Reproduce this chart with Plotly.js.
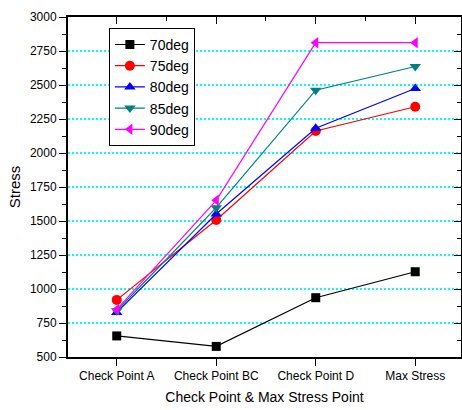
<!DOCTYPE html>
<html>
<head>
<meta charset="utf-8">
<script src="https://cdn.plot.ly/plotly-3.0.1.min.js"></script>
<style>html,body{margin:0;padding:0;background:#fff;}#chart{width:462px;height:410px;}</style>
</head>
<body>
<div id="chart"></div>
<script>
const categories = ["Check Point A", "Check Point BC", "Check Point D", "Max Stress"];
const deg70 = [655, 578, 936, 1127];
const deg75 = [920, 1507, 2162, 2340];
const deg80 = [828, 1551, 2182, 2474];
const deg85 = [840, 1598, 2462, 2636];
const deg90 = [850, 1652, 2811, 2811];
const seriesNames = ["70deg", "75deg", "80deg", "85deg", "90deg"];
const yTicks = [500, 750, 1000, 1250, 1500, 1750, 2000, 2250, 2500, 2750, 3000];

const colors = ["#000000", "#ff0000", "#0000ff", "#008080", "#ff00ff"];
const symbols = ["square", "circle", "triangle-up", "triangle-down", "triangle-left"];
const sizes = [9, 10, 10, 10, 10];
const data = [deg70, deg75, deg80, deg85, deg90].map((v, i) => ({
  x: categories, y: v, name: seriesNames[i], type: "scatter", mode: "lines+markers",
  line: {color: colors[i], width: 1.2},
  marker: {color: colors[i], symbol: symbols[i], size: sizes[i]}
}));
data.push({x: [], y: [], xaxis: "x2", yaxis: "y2", showlegend: false, type: "scatter", hoverinfo: "skip"});

const xr = [-0.49, 3.46];
const yr = [500, 3000];
const font = {family: "Liberation Sans, Arial, sans-serif", color: "#000"};
const layout = {
  width: 462, height: 410,
  margin: {l: 68, r: 1, t: 17, b: 53},
  paper_bgcolor: "#fff", plot_bgcolor: "#fff",
  font: Object.assign({size: 12}, font),
  showlegend: true,
  legend: {x: 0.104, y: 0.968, xanchor: "left", yanchor: "top",
    bordercolor: "#000", borderwidth: 1, bgcolor: "#fff",
    font: Object.assign({size: 14}, font), tracegroupgap: 0, itemwidth: 30},
  xaxis: {type: "category", range: xr, showline: true, linecolor: "#000", linewidth: 2,
    ticks: "outside", ticklen: 7, tickwidth: 1, tickcolor: "#000",
    minor: {ticks: "outside", ticklen: 4, tickwidth: 1, tickcolor: "#000"},
    showgrid: false, zeroline: false,
    tickfont: Object.assign({size: 12}, font),
    title: {text: "Check Point & Max Stress Point", font: Object.assign({size: 14}, font), standoff: 10}},
  yaxis: {range: yr, tickvals: yTicks, showline: true, linecolor: "#000", linewidth: 2,
    ticks: "outside", ticklen: 7, tickwidth: 1, tickcolor: "#000",
    minor: {ticks: "outside", ticklen: 4, dtick: 125, tick0: 500, tickwidth: 1, tickcolor: "#000", showgrid: false},
    showgrid: true, gridcolor: "#00ffff", griddash: "2px,2px", gridwidth: 1.5, zeroline: false,
    tickfont: Object.assign({size: 12}, font),
    title: {text: "Stress", font: Object.assign({size: 15}, font), standoff: 6}},
  xaxis2: {overlaying: "x", side: "top", anchor: "y2", range: xr, tickvals: [0, 1, 2, 3],
    showticklabels: false, showline: true, linecolor: "#000", linewidth: 2,
    ticks: "inside", ticklen: 7, tickwidth: 1, tickcolor: "#000",
    minor: {ticks: "inside", ticklen: 4, dtick: 0.5, tick0: 0, tickwidth: 1, tickcolor: "#000", showgrid: false},
    showgrid: false, zeroline: false},
  yaxis2: {overlaying: "y", side: "right", anchor: "x2", range: yr, tickvals: yTicks,
    showticklabels: false, showline: true, linecolor: "#000", linewidth: 2,
    ticks: "inside", ticklen: 7, tickwidth: 1, tickcolor: "#000",
    minor: {ticks: "inside", ticklen: 4, dtick: 125, tick0: 500, tickwidth: 1, tickcolor: "#000", showgrid: false},
    showgrid: false, zeroline: false}
};
Plotly.newPlot("chart", data, layout, {staticPlot: true});
</script>
</body>
</html>
